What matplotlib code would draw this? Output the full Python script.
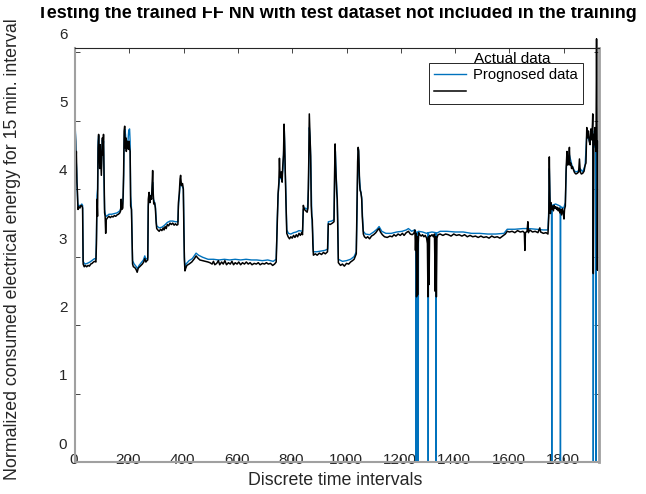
import matplotlib
matplotlib.use('Agg')
import matplotlib.pyplot as plt
from matplotlib.transforms import ScaledTranslation, Bbox

plt.rcParams['font.family'] = ['Liberation Sans', 'DejaVu Sans']

title = 'Testing the trained FF NN with test dataset not included in the training'
xlabel = 'Discrete time intervals'
ylabel = 'Normalized consumed electrical energy for 15 min. interval'
x_ticks = [0, 200, 400, 600, 800, 1000, 1200, 1400, 1600, 1800]
y_ticks = [0, 1, 2, 3, 4, 5, 6]

# Actual data (black)
x_actual = [0, 2, 3, 5, 7, 9, 11, 14, 18, 22, 26, 28,
            30, 34, 38, 43, 48, 53, 58, 63, 68, 73, 77,
            79, 81, 83, 85, 87, 89, 91, 93, 95, 97, 99, 101, 103, 105, 107, 109, 111, 113, 115,
            120, 125, 130, 135, 140, 145, 150, 155, 160, 165, 168, 170, 172, 176,
            179, 181, 183, 185, 187, 189, 191, 193, 195, 197, 199, 201, 203, 205, 208,
            212, 215, 220, 225, 229, 233, 238, 243, 248, 253, 257, 261, 265, 268,
            270, 273, 276, 279, 282, 284, 286, 288, 290, 293, 296, 299, 301,
            305, 310, 315, 320, 325, 328, 332, 336, 340, 345, 350, 355, 360, 365, 370, 375, 379,
            381, 384, 387, 389, 392, 396, 399, 401, 403, 405, 408,
            412, 420, 430, 440, 446, 452, 460, 470, 480, 490, 497,
            505, 510, 515, 522, 528, 533, 540, 546, 552, 558, 565, 572, 578, 584, 590, 597,
            603, 610, 617, 624, 631, 638, 645, 652, 660, 668, 675, 682, 690, 698, 705, 712,
            720, 728, 735, 741,
            745, 748, 751, 753, 755, 757, 760, 763, 765, 768, 770, 772, 775, 777, 780,
            785, 790, 795, 800, 805, 810, 815, 820, 825, 830, 835, 838,
            841, 845, 850, 855, 858, 861, 863, 866, 868, 870, 872, 874, 876, 878,
            885, 892, 900, 908, 915, 922, 930,
            933, 940, 948, 954, 956, 958, 960, 962, 964, 966, 968, 970,
            978, 985, 992, 1000, 1008, 1015, 1022, 1028, 1033, 1036,
            1039, 1041, 1043, 1045, 1048, 1050, 1053, 1056, 1058, 1062,
            1066, 1072, 1078, 1085, 1092, 1100, 1108, 1115, 1120, 1125, 1132, 1140, 1150,
            1160, 1168, 1175, 1182, 1190, 1198, 1206, 1212, 1220, 1228, 1235, 1242, 1248,
            1252, 1254, 1256, 1258, 1260, 1262, 1264, 1266, 1270, 1275, 1280, 1285, 1290, 1295,
            1298, 1300, 1302, 1304, 1306, 1310, 1315, 1320, 1324,
            1327, 1329, 1331, 1333, 1337,
            1345, 1355, 1365, 1375, 1385, 1395, 1405, 1415, 1425, 1435, 1445, 1455, 1465,
            1475, 1485, 1495, 1505, 1515, 1525, 1535, 1545, 1555, 1565, 1575, 1585, 1592,
            1600, 1610, 1620, 1630, 1640, 1650, 1655, 1657, 1659, 1665, 1668, 1670, 1675,
            1685, 1695, 1705, 1712, 1715, 1725, 1735, 1742,
            1745, 1747, 1749, 1751, 1753, 1756, 1759, 1762, 1765, 1768, 1771, 1774, 1777,
            1780, 1783, 1786, 1789, 1792, 1795, 1798, 1801, 1803, 1806,
            1809, 1812, 1815, 1818, 1821, 1823, 1826, 1829, 1832, 1836, 1840, 1845, 1850,
            1855, 1858, 1861, 1865, 1870, 1875, 1879, 1882, 1885, 1888, 1891, 1894, 1897,
            1900, 1903, 1906, 1907, 1909, 1911, 1913, 1915, 1917, 1919, 1921, 1923, 1924,
            1926, 1928]
y_actual = [4.90, 4.70, 4.35, 4.55, 4.10, 3.95, 3.70, 3.74, 3.72, 3.76, 3.75, 3.72,
            2.90, 2.86, 2.88, 2.86, 2.88, 2.87, 2.90, 2.91, 2.93, 2.94, 2.93,
            3.20, 3.85, 3.60, 4.60, 4.80, 4.55, 4.30, 4.65, 4.40, 4.20, 4.50, 4.75, 4.50, 4.80, 4.20, 3.65, 3.60, 3.35, 3.55,
            3.58, 3.60, 3.58, 3.60, 3.59, 3.61, 3.60, 3.62, 3.63, 3.65, 3.68, 3.85, 3.70, 3.72,
            4.20, 4.85, 4.92, 4.60, 4.75, 4.55, 4.65, 4.70, 4.62, 4.58, 4.70, 4.60, 4.55, 3.75, 3.70,
            2.90, 2.86, 2.85, 2.82, 2.78, 2.84, 2.86, 2.88, 2.90, 2.93, 2.98, 2.93, 2.95, 2.96,
            3.85, 3.95, 3.80, 3.90, 3.85, 4.05, 4.27, 3.95, 3.78, 3.80, 3.72, 3.50, 3.42,
            3.40, 3.38, 3.41, 3.39, 3.43, 3.40, 3.45, 3.42, 3.48, 3.46, 3.50, 3.48, 3.50, 3.47, 3.49, 3.47, 3.48,
            3.80, 3.93, 4.15, 4.20, 4.05, 4.08, 4.00, 3.40, 2.95, 2.80, 2.84,
            2.88, 2.90, 2.93, 2.98, 3.02, 2.99, 2.96, 2.95, 2.94, 2.93, 2.92,
            2.90, 2.94, 2.89, 2.91, 2.95, 2.89, 2.93, 2.90, 2.95, 2.89, 2.92, 2.90, 2.94, 2.89, 2.92, 2.90,
            2.93, 2.89, 2.92, 2.90, 2.93, 2.90, 2.92, 2.89, 2.91, 2.90, 2.92, 2.89, 2.91, 2.90, 2.92, 2.90,
            2.91, 2.88, 2.90, 2.93,
            3.50, 3.93, 4.10, 4.45, 4.20, 4.17, 4.25, 4.10, 4.32, 4.50, 4.95, 4.70, 4.15, 3.80, 3.35,
            3.30, 3.27, 3.30, 3.28, 3.32, 3.29, 3.33, 3.30, 3.35, 3.32, 3.36, 3.33,
            3.76, 3.70, 3.68, 3.66, 3.72, 4.40, 5.10, 4.70, 4.48, 3.76, 3.60, 3.55, 3.20, 3.03,
            3.05, 3.03, 3.06, 3.04, 3.07, 3.05, 3.08,
            3.49, 3.48, 3.50, 3.52, 4.20, 4.66, 4.35, 4.15, 3.95, 3.85, 3.40, 2.92,
            2.88, 2.90, 2.87, 2.91, 2.90, 2.93, 2.95, 2.97, 3.02, 3.05,
            3.80, 4.40, 4.61, 4.55, 4.10, 3.98, 3.95, 3.85, 3.60, 3.34,
            3.30, 3.28, 3.30, 3.27, 3.31, 3.33, 3.36, 3.40, 3.42, 3.37, 3.33, 3.30, 3.29,
            3.31, 3.30, 3.33, 3.31, 3.34, 3.32, 3.35, 3.32, 3.36, 3.38, 3.34, 3.33, 3.35,
            3.40, 3.10, 3.35, 2.42, 3.30, 2.45, 3.20, 3.36, 3.33, 3.31, 3.33, 3.30, 3.32, 3.28,
            3.20, 2.42, 3.30, 2.60, 3.32, 3.31, 3.33, 3.30, 3.34,
            2.50, 3.30, 2.42, 3.28, 3.33,
            3.34, 3.32, 3.34, 3.33, 3.31, 3.34, 3.32, 3.33, 3.31, 3.33, 3.30, 3.32, 3.30,
            3.31, 3.29, 3.31, 3.29, 3.30, 3.28, 3.31, 3.29, 3.30, 3.28, 3.31, 3.34, 3.38,
            3.37, 3.38, 3.36, 3.39, 3.37, 3.38, 3.36, 3.10, 3.36, 3.38, 3.52, 3.36, 3.40,
            3.37, 3.38, 3.36, 3.43, 3.37, 3.35, 3.36, 3.34,
            3.60, 4.47, 3.90, 3.64, 3.80, 3.70, 3.75, 3.68, 3.76, 3.72, 3.74, 3.70, 3.73,
            3.68, 3.72, 3.65, 3.70, 3.62, 3.71, 3.66, 3.56, 3.70, 3.75,
            4.30, 4.55, 4.35, 4.40, 4.61, 4.35, 4.38, 4.30, 4.33, 4.28, 4.24, 4.22, 4.23,
            4.25, 4.44, 4.25, 4.22, 4.23, 4.26, 4.35, 4.38, 4.90, 4.75, 4.85, 4.70, 4.65,
            4.88, 4.72, 4.95, 5.10, 2.76, 4.80, 4.65, 4.90, 4.70, 4.55, 6.20, 4.60, 2.81,
            4.70, 4.60]

# Prognosed data (blue)
x_prog = [0, 2, 4, 6, 8, 10, 12, 16, 20, 25, 28,
          30, 36, 45, 55, 65, 72, 77,
          79, 81, 83, 85, 87, 89, 91, 93, 95, 97, 99, 101, 103, 105, 107, 109, 112, 116,
          125, 135, 145, 155, 165, 169, 171, 174, 178, 181, 183, 186, 189, 192, 195, 198,
          201, 203, 205, 208, 212,
          218, 226, 230, 236, 246, 252, 257, 261, 268,
          270, 274, 278, 283, 286, 289, 292, 296, 299, 301,
          310, 320, 330, 340, 350, 360, 370, 379,
          381, 384, 387, 390, 394, 399, 401, 403, 405, 409,
          420, 432, 446, 455, 470, 490, 510, 530, 550, 570, 590, 610, 630, 650, 670, 690,
          710, 730, 741,
          745, 748, 752, 755, 758, 762, 766, 769, 771, 774, 777, 780,
          786, 795, 805, 815, 825, 838,
          841, 848, 856, 860, 863, 866, 869, 872, 876, 878,
          890, 905, 920, 931,
          933, 945, 954, 957, 959, 962, 965, 968, 970,
          985, 1000, 1015, 1028, 1036,
          1039, 1042, 1044, 1047, 1051, 1056, 1059, 1062,
          1070, 1085, 1100, 1112, 1120, 1130, 1145, 1165, 1185, 1205, 1220, 1228, 1240, 1250,
          1255, 1256, 1257, 1263, 1264, 1265, 1280, 1295, 1300, 1301, 1302, 1315, 1329,
          1330, 1331, 1345, 1370, 1400, 1430, 1460, 1490, 1520, 1550, 1580, 1592, 1620,
          1650, 1670, 1700, 1725, 1742,
          1745, 1747, 1750, 1755, 1756, 1757, 1770, 1787, 1788, 1789, 1800, 1806,
          1809, 1812, 1821, 1830, 1840, 1850, 1860, 1870, 1879, 1885, 1895, 1902, 1907,
          1908, 1909, 1910, 1918, 1919, 1920, 1928]
y_prog = [4.95, 4.80, 4.45, 4.30, 4.00, 3.80, 3.74, 3.76, 3.75, 3.78, 3.76,
          2.94, 2.90, 2.91, 2.93, 2.96, 2.98, 2.97,
          3.30, 3.90, 4.00, 4.70, 4.78, 4.60, 4.45, 4.62, 4.45, 4.30, 4.55, 4.72, 4.60, 4.70, 4.10, 3.70, 3.62, 3.60,
          3.63, 3.63, 3.64, 3.65, 3.68, 3.72, 3.80, 3.74, 3.90, 4.70, 4.88, 4.80, 4.60, 4.62, 4.70, 4.86,
          4.88, 4.70, 3.90, 3.72, 2.95,
          2.90, 2.86, 2.83, 2.88, 2.93, 2.96, 3.02, 2.97, 2.99,
          3.75, 3.90, 3.85, 3.95, 4.10, 3.85, 3.82, 3.75, 3.55, 3.46,
          3.43, 3.44, 3.47, 3.51, 3.53, 3.53, 3.52, 3.52,
          3.75, 3.90, 4.05, 4.10, 4.05, 4.00, 3.50, 3.00, 2.86, 2.90,
          2.95, 2.98, 3.06, 3.03, 3.00, 2.97, 2.97, 2.96, 2.97, 2.96, 2.97, 2.96, 2.97, 2.96, 2.96, 2.95,
          2.96, 2.94, 2.97,
          3.55, 3.90, 4.10, 4.25, 4.15, 4.15, 4.30, 4.60, 4.85, 4.30, 3.90, 3.40,
          3.35, 3.34, 3.36, 3.37, 3.39, 3.38,
          3.70, 3.72, 3.70, 4.00, 4.90, 4.75, 4.30, 3.65, 3.30, 3.08,
          3.08, 3.09, 3.10, 3.12,
          3.52, 3.53, 3.55, 4.30, 4.55, 4.20, 3.95, 3.50, 2.97,
          2.94, 2.95, 2.97, 3.01, 3.08,
          3.70, 4.45, 4.58, 4.20, 4.00, 3.88, 3.60, 3.38,
          3.34, 3.33, 3.37, 3.41, 3.45, 3.38, 3.35, 3.35, 3.37, 3.38, 3.40, 3.42, 3.38, 3.40,
          3.38, 0.00, 3.36, 3.37, 0.00, 3.38, 3.37, 3.35, 3.36, 0.00, 3.36, 3.37, 3.36,
          0.00, 3.35, 3.38, 3.38, 3.37, 3.37, 3.35, 3.35, 3.34, 3.34, 3.35, 3.41, 3.41,
          3.42, 3.42, 3.41, 3.40, 3.40,
          3.70, 4.30, 3.80, 3.76, 0.00, 3.76, 3.78, 3.75, 0.00, 3.74, 3.72, 3.80,
          4.25, 4.45, 4.50, 4.35, 4.26, 4.25, 4.30, 4.25, 4.35, 4.80, 4.70, 4.80, 4.85,
          4.70, 0.00, 4.60, 4.65, 0.00, 4.60, 4.55]

fig = plt.figure(figsize=(6.46, 4.94), dpi=100)
ax = fig.add_axes([75 / 646, 32 / 494, 524 / 646, 414.3 / 494])

blue_line, = ax.plot(x_prog, y_prog, color='#0072BD', lw=1.0)
black_line, = ax.plot(x_actual, y_actual, color='black', lw=1.1, clip_on=False)

ax.set_xlim(0, 1930)
ax.set_ylim(0, 6.07)
ax.set_xticks(x_ticks)
ax.set_yticks(y_ticks)
ax.set_xticklabels([str(v) for v in x_ticks])
ax.set_yticklabels([str(v) for v in y_ticks])
ax.tick_params(direction='in', top=True, right=True, length=3.6, width=0.6,
               color='#262626', labelsize=11, labelcolor='#262626')
ax.tick_params(axis='y', pad=5.5)

for side in ['left', 'bottom']:
    ax.spines[side].set_color('#a0a0a0')
    ax.spines[side].set_linewidth(1.5)
ax.spines['right'].set_color('#a0a0a0')
ax.spines['right'].set_linewidth(2.0)
ax.spines['top'].set_color('#262626')
ax.spines['top'].set_linewidth(0.8)

ax.set_ylabel(ylabel, fontsize=12.8, color='#262626')
ax.yaxis.set_label_coords(-0.103, 0.514)
ax.set_xlabel(xlabel, fontsize=12.8, color='#262626')
ax.xaxis.set_label_coords(0.496, -0.023)

title_txt = fig.text(337 / 646, 1 - 18 / 494, title, ha='center', va='baseline',
                     fontsize=13, fontweight='bold')
# the reference has the top of the title cut off
title_txt.set_clip_box(Bbox.from_extents(0, 0, 646, 494 - 6.5))
title_txt.set_clip_on(True)

leg = ax.legend([blue_line, black_line], ['Prognosed data', ' '],
                loc='upper right', bbox_to_anchor=(0.9695, 0.963), borderaxespad=0,
                fancybox=False, edgecolor='#262626', framealpha=1, fontsize=10.6,
                handlelength=2.2, handletextpad=0.45, borderpad=0.35, labelspacing=0.2)
leg.get_frame().set_linewidth(0.7)
ax.text(0.834, 0.963, 'Actual data', transform=ax.transAxes, ha='center',
        va='baseline', fontsize=11, zorder=10)

# MATLAB-like offset of tick labels
ydy = ScaledTranslation(0, 19 / 100, fig.dpi_scale_trans)
for lab in ax.get_yticklabels():
    lab.set_transform(lab.get_transform() + ydy)
xdy = ScaledTranslation(-1 / 100, 14 / 100, fig.dpi_scale_trans)
for lab in ax.get_xticklabels():
    lab.set_transform(lab.get_transform() + xdy)

fig.savefig('out.png', dpi=100)
